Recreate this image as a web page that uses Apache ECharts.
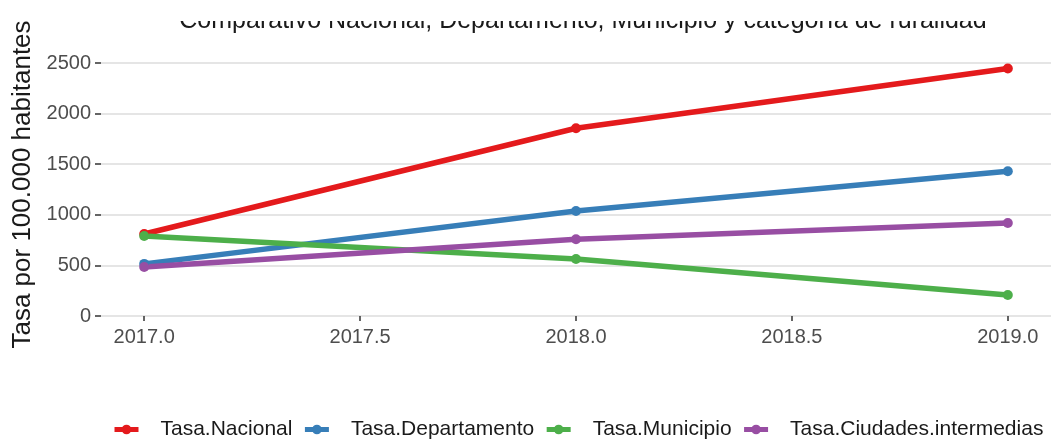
<!DOCTYPE html>
<html>
<head>
<meta charset="utf-8">
<script src="https://cdn.jsdelivr.net/npm/echarts@6/dist/echarts.min.js"></script>
<style>
html,body{margin:0;padding:0;background:#fff;}
#chart{width:1052px;height:440px;}
</style>
</head>
<body>
<div id="chart"></div>
<script>
const years = [2017, 2018, 2019];
const xTickValues = [2017, 2017.5, 2018, 2018.5, 2019];
const yTickValues = [0, 500, 1000, 1500, 2000, 2500];
const tasaNacional = [810, 1855, 2445];
const tasaDepartamento = [515, 1038, 1430];
const tasaMunicipio = [790, 563, 207];
const tasaCiudades = [485, 758, 919];
const seriesNames = ['Tasa.Nacional', 'Tasa.Departamento', 'Tasa.Municipio', 'Tasa.Ciudades.intermedias'];
const seriesColors = ['#E41A1C', '#377EB8', '#4DAF4A', '#984EA3'];
const titleText = 'Comparativo Nacional, Departamento, Municipio y categoría de ruralidad';
const yTitle = 'Tasa por 100.000 habitantes';

const seriesData = [tasaNacional, tasaDepartamento, tasaMunicipio, tasaCiudades];
const FONT = '"Liberation Sans", Arial, sans-serif';

const chart = echarts.init(document.getElementById('chart'), null, {renderer: 'canvas'});
chart.setOption({
  animation: false,
  backgroundColor: '#fff',
  title: {
    text: titleText,
    left: 583,
    textAlign: 'center',
    top: 9,
    padding: 0,
    textStyle: {fontFamily: FONT, fontSize: 25, fontWeight: 'normal', color: '#1a1a1a'}
  },
  graphic: [{
    type: 'rect',
    z: 1000,
    shape: {x: 0, y: 0, width: 1052, height: 21},
    style: {fill: '#fff'}
  }],
  grid: {left: 101, right: 1, top: 63, bottom: 124, containLabel: false},
  legend: {
    data: seriesNames,
    left: 107,
    top: 414,
    width: 1100,
    padding: [5, 0, 5, 5],
    itemWidth: 24,
    itemHeight: 12,
    itemGap: 10,
    lineStyle: {width: 5},
    textStyle: {fontFamily: FONT, fontSize: 21, color: '#1a1a1a', padding: [0, 0, 0, 17]}
  },
  xAxis: {
    type: 'value',
    min: 2016.9,
    max: 2019.1,
    axisLine: {show: false},
    splitLine: {show: false},
    axisTick: {show: true, customValues: xTickValues, length: 5, lineStyle: {color: '#333', width: 1.5}},
    axisLabel: {
      customValues: xTickValues,
      margin: 11,
      fontFamily: FONT, fontSize: 20, color: '#4d4d4d',
      formatter: v => Number(v).toFixed(1)
    }
  },
  yAxis: {
    type: 'value',
    min: 0,
    max: 2500,
    interval: 500,
    name: yTitle,
    nameLocation: 'middle',
    nameRotate: 90,
    nameGap: 60,
    nameTextStyle: {fontFamily: FONT, fontSize: 26, color: '#1a1a1a', padding: [0, 0, 0, 10]},
    axisLine: {show: false},
    axisTick: {show: true, length: 6, lineStyle: {color: '#333', width: 1.5}},
    axisLabel: {margin: 10, fontFamily: FONT, fontSize: 20, color: '#4d4d4d', formatter: v => String(v)},
    splitLine: {show: true, lineStyle: {color: '#dcdcdc', width: 1.5}}
  },
  series: seriesNames.map((name, i) => ({
    name: name,
    type: 'line',
    data: years.map((y, j) => [y, seriesData[i][j]]),
    color: seriesColors[i],
    lineStyle: {width: 5.5, color: seriesColors[i]},
    symbol: 'circle',
    symbolSize: 10,
    itemStyle: {color: seriesColors[i]},
    showSymbol: true,
    clip: false
  }))
});
</script>
</body>
</html>
